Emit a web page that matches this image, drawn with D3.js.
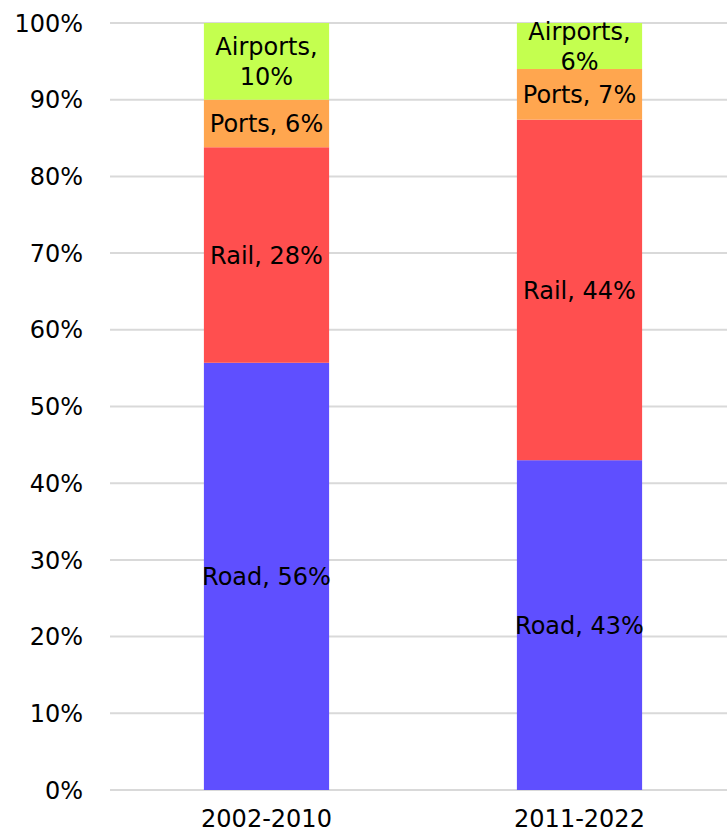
<!DOCTYPE html>
<html>
<head>
<meta charset="utf-8">
<script src="https://cdn.jsdelivr.net/npm/d3@7"></script>
<style>
    body { margin: 0; background: #fff; }
    text { font-family: "DejaVu Sans", sans-serif; fill: #000; }
</style>
</head>
<body>
<script>
// Data (shares in percent)
var periods = ["2002-2010", "2011-2022"];
var modes = ["Road", "Rail", "Ports", "Airports"];
var road = [55.7, 43.0];
var rail = [28.1, 44.4];
var ports = [6.2, 6.6];
var airports = [10.0, 6.0];
var shownLabels = {
    Road: ["56%", "43%"],
    Rail: ["28%", "44%"],
    Ports: ["6%", "7%"],
    Airports: ["10%", "6%"]
};
var yTicks = [0, 10, 20, 30, 40, 50, 60, 70, 80, 90, 100];
var colors = ["#5f4fff", "#ff4f4f", "#ffa64f", "#c4ff4f"];

window.onload = function() {
    var svgWidth = 727;
    var svgHeight = 834;

    var padding = { top: 23, right: -9, bottom: 44, left: 110 };
    var chartWidth = svgWidth - padding.left - padding.right;
    var chartHeight = svgHeight - padding.top - padding.bottom;
    var fontSize = "24px";

    var rows = periods.map(function(p, i) {
        return { period: p, Road: road[i], Rail: rail[i], Ports: ports[i], Airports: airports[i], index: i };
    });
    var series = d3.stack().keys(modes)(rows);

    const svg = d3.select("body").append("svg")
        .attr("width", svgWidth)
        .attr("height", svgHeight);

    const chart = svg.append("g")
        .attr("transform", `translate(${padding.left}, ${padding.top})`);

    const xScale = d3.scaleBand()
        .range([0, chartWidth])
        .domain(periods);

    const yScale = d3.scaleLinear()
        .range([chartHeight, 0])
        .domain([0, 100]);

    var barWidth = xScale.bandwidth() * 0.4;

    // Gridlines
    chart.selectAll(".grid")
        .data(yTicks)
        .enter()
        .append("line")
        .attr("x1", 0)
        .attr("x2", chartWidth)
        .attr("y1", function(d) { return yScale(d); })
        .attr("y2", function(d) { return yScale(d); })
        .attr("stroke", "#d9d9d9")
        .attr("stroke-width", 2);

    // Y tick labels
    chart.selectAll(".ytick")
        .data(yTicks)
        .enter()
        .append("text")
        .attr("x", -27)
        .attr("y", function(d) { return yScale(d); })
        .attr("dy", "0.36em")
        .attr("text-anchor", "end")
        .style("font-size", fontSize)
        .text(function(d) { return d + "%"; });

    // X labels
    chart.selectAll(".xtick")
        .data(periods)
        .enter()
        .append("text")
        .attr("x", function(d) { return xScale(d) + xScale.bandwidth() / 2; })
        .attr("y", chartHeight + 37)
        .attr("text-anchor", "middle")
        .style("font-size", fontSize)
        .text(function(d) { return d; });

    // Bars
    var groups = chart.selectAll(".series")
        .data(series)
        .enter()
        .append("g")
        .attr("fill", function(d, i) { return colors[i]; });

    groups.selectAll("rect")
        .data(function(d) { return d; })
        .enter()
        .append("rect")
        .attr("x", function(d) { return xScale(d.data.period) + (xScale.bandwidth() - barWidth) / 2; })
        .attr("y", function(d) { return yScale(d[1]); })
        .attr("height", function(d) { return yScale(d[0]) - yScale(d[1]); })
        .attr("width", barWidth);

    // Segment labels
    groups.each(function(s) {
        var key = s.key;
        d3.select(this).selectAll("text")
            .data(s)
            .enter()
            .append("text")
            .attr("text-anchor", "middle")
            .style("font-size", fontSize)
            .each(function(d) {
                var cx = xScale(d.data.period) + xScale.bandwidth() / 2;
                var cy = (yScale(d[0]) + yScale(d[1])) / 2;
                var label = shownLabels[key][d.data.index];
                var t = d3.select(this);
                if (key === "Airports") {
                    t.append("tspan").attr("x", cx).attr("y", cy - 15).attr("dy", "0.36em").text(key + ",");
                    t.append("tspan").attr("x", cx).attr("y", cy + 15).attr("dy", "0.36em").text(label);
                } else {
                    t.attr("x", cx).attr("y", cy).attr("dy", "0.36em").text(key + ", " + label);
                }
            });
    });
};
</script>
</body>
</html>
